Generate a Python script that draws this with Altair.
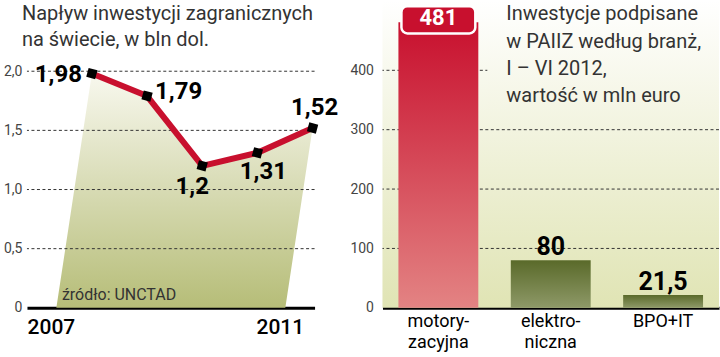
import altair as alt
import pandas as pd

# ---------------- data ----------------
years = [2007, 2008, 2009, 2010, 2011]
inflow = [1.98, 1.79, 1.2, 1.31, 1.52]
inflow_labels = ["1,98", "1,79", "1,2", "1,31", "1,52"]
left_ticks = [0, 0.5, 1.0, 1.5, 2.0]

sectors = ["motoryzacyjna", "elektroniczna", "BPO+IT"]
invest = [481, 80, 21.5]
invest_labels = ["481", "80", "21,5"]
right_ticks = [0, 100, 200, 300, 400]

left_title = ["Napływ inwestycji zagranicznych", "na świecie, w bln dol."]
right_title = ["Inwestycje podpisane", "w PAIIZ według branż,", "I – VI 2012,", "wartość w mln euro"]
source = "źródło: UNCTAD"

# ---------------- style ----------------
FONT = "Roboto"
RED = "#c8102e"
SHEAR = 0.325  # slant of the pseudo-3D area (x units per y unit)
LW, RW, H = 288, 337, 308

line_df = pd.DataFrame({"x": list(range(len(years))), "v": inflow, "lab": inflow_labels})
# sheared polygon under the line: top = data points, bottom corners slanted
n = len(inflow)
poly_x = list(range(n)) + [(n - 1) - SHEAR * inflow[-1], 0 - SHEAR * inflow[0]]
poly_v = inflow + [0, 0]
poly_df = pd.DataFrame({"x": poly_x, "v": poly_v, "o": list(range(len(poly_x)))})
year_df = pd.DataFrame({"x": [poly_x[-1], poly_x[-2]], "v": [0, 0],
                        "t": [str(years[0]), str(years[-1])]})
lrule_df = pd.DataFrame({"v": left_ticks[1:]})

bar_df = pd.DataFrame({"sector": sectors, "val": invest, "lab": invest_labels})
rrule_df = pd.DataFrame({"val": right_ticks[1:]})
one = pd.DataFrame({"a": [0]})

def grad(c0, c1):
    return alt.Gradient(gradient="linear", x1=0, x2=0, y1=0, y2=1,
                        stops=[alt.GradientStop(color=c0, offset=0),
                               alt.GradientStop(color=c1, offset=1)])

# ---------------- left panel ----------------
lx = alt.X("x:Q", scale=alt.Scale(domain=[-1.1765, 4.036], nice=False, zero=False),
           axis=alt.Axis(labels=False, ticks=False, grid=False, domainColor="black",
                         domainWidth=3, title=None))
ly = alt.Y("v:Q", scale=alt.Scale(domain=[0, 2.6], nice=False),
           axis=alt.Axis(values=left_ticks, grid=False, domain=False, ticks=False, title=None,
                         labelExpr="datum.value == 0 ? '0' : replace(format(datum.value, '.1f'), '.', ',')",
                         labelFont=FONT, labelFontSize=14, labelColor="#444", labelPadding=5))

area = alt.Chart(poly_df).mark_line(filled=True, fill=grad("#f8f8ee", "#b6bd78"),
                                    strokeOpacity=0).encode(x=lx, y=ly, order="o:Q")
lrules = alt.Chart(lrule_df).mark_rule(color="#333", strokeWidth=1, strokeDash=[3, 2.5]).encode(y=ly)
line = alt.Chart(line_df).mark_line(color=RED, strokeWidth=6).encode(x=lx, y=ly)
pts = alt.Chart(line_df).mark_point(shape="square", filled=True, fill="black", opacity=1,
                                    size=85, angle=15, strokeWidth=0).encode(x=lx, y=ly)

styles = [("right", -10, 1), ("left", 8, -4), ("center", -10, 21), ("center", 6, 19), ("center", 2, -20)]
lab_layers = []
for i, (al, dx, dy) in enumerate(styles):
    lab_layers.append(
        alt.Chart(line_df).transform_filter(alt.datum.x == i)
        .mark_text(font=FONT, fontWeight="bold", fontSize=24, color="black",
                   align=al, baseline="middle", dx=dx, dy=dy)
        .encode(x=lx, y=ly, text="lab:N"))

year_txt = alt.Chart(year_df).mark_text(font=FONT, fontSize=21, fontWeight=500, color="black",
                                        baseline="middle", dx=-5, dy=20).encode(x=lx, y=ly, text="t:N")
src_txt = alt.Chart(one).mark_text(text=source, font=FONT, fontSize=16, color="#333",
                                   align="left", baseline="alphabetic").encode(
    x=alt.value(35), y=alt.value(300))
ltitle = alt.Chart(one).mark_text(text=left_title, font=FONT, fontSize=20, color="#333",
                                  align="left", baseline="alphabetic", lineHeight=26).encode(
    x=alt.value(-5), y=alt.value(20))

left = alt.layer(area, lrules, line, pts, *lab_layers, year_txt, src_txt, ltitle).properties(
    width=LW, height=H)

# ---------------- right panel ----------------
rx = alt.X("sector:N", sort=sectors,
           scale=alt.Scale(domain=sectors, paddingInner=0.289, paddingOuter=0.142),
           axis=alt.Axis(ticks=False, grid=False, domainColor="black", domainWidth=3, title=None,
                         labelAngle=0, labelFont=FONT, labelFontSize=18, labelColor="black",
                         labelLineHeight=21, labelPadding=5, labelBaseline="top",
                         labelExpr="datum.label == 'motoryzacyjna' ? ['motory-', 'zacyjna'] : "
                                   "datum.label == 'elektroniczna' ? ['elektro-', 'niczna'] : datum.label"))
ry = alt.Y("val:Q", scale=alt.Scale(domain=[0, 518], nice=False),
           axis=alt.Axis(values=right_ticks, grid=False, domain=False, ticks=False, title=None,
                         labelFont=FONT, labelFontSize=14, labelColor="#444", labelPadding=9))

rbg = alt.Chart(one).mark_rect(fill=grad("#ffffff", "#e0e4b4")).encode(
    x=alt.value(0), x2=alt.value(RW), y=alt.value(0), y2=alt.value(H))
rrules = alt.Chart(rrule_df).mark_rule(color="#333", strokeWidth=1, strokeDash=[3, 2.5]).encode(y=ry)
tbg = alt.Chart(one).mark_rect(fill=grad("#ffffff", "#f4f5e4")).encode(
    x=alt.value(105), x2=alt.value(RW), y=alt.value(0), y2=alt.value(110))
red_bar = alt.Chart(bar_df).transform_filter(alt.datum.sector == sectors[0]).mark_bar(
    fill=grad(RED, "#e38383")).encode(x=rx, y=ry)
green_bars = alt.Chart(bar_df).transform_filter(alt.datum.sector != sectors[0]).mark_bar(
    fill=grad("#5a6a2a", "#8e9968")).encode(x=rx, y=ry)
box = alt.Chart(bar_df).transform_filter(alt.datum.sector == sectors[0]).transform_calculate(
    lo="datum.val - 19", hi="datum.val + 27").mark_bar(
    width=74, fill=RED, stroke="white", strokeWidth=2.5, cornerRadius=6).encode(
    x=rx, y=alt.Y("lo:Q", scale=alt.Scale(domain=[0, 518], nice=False)), y2="hi:Q")
box_txt = alt.Chart(bar_df).transform_filter(alt.datum.sector == sectors[0]).mark_text(
    font=FONT, fontWeight="bold", fontSize=22, color="white", baseline="middle", dy=-4).encode(
    x=rx, y=ry, text="lab:N")
bar_txt = alt.Chart(bar_df).transform_filter(alt.datum.sector != sectors[0]).mark_text(
    font=FONT, fontWeight="bold", fontSize=25, color="black", baseline="alphabetic", dy=-5).encode(
    x=rx, y=ry, text="lab:N")
rtitle = alt.Chart(one).mark_text(text=right_title, font=FONT, fontSize=20, color="#333",
                                  align="left", baseline="alphabetic", lineHeight=27.4).encode(
    x=alt.value(124), y=alt.value(20))

right = alt.layer(rbg, rrules, tbg, red_bar, green_bars, box, box_txt, bar_txt, rtitle).properties(
    width=RW, height=H)

chart = alt.hconcat(left, right, spacing=68, bounds="flush").properties(
    autosize=alt.AutoSizeParams(type="pad"),
    padding={"left": 3, "top": 0, "right": 0, "bottom": 0},
).configure_view(strokeWidth=0)

chart.save("out.html", embed_options={"renderer": "svg", "actions": False})
